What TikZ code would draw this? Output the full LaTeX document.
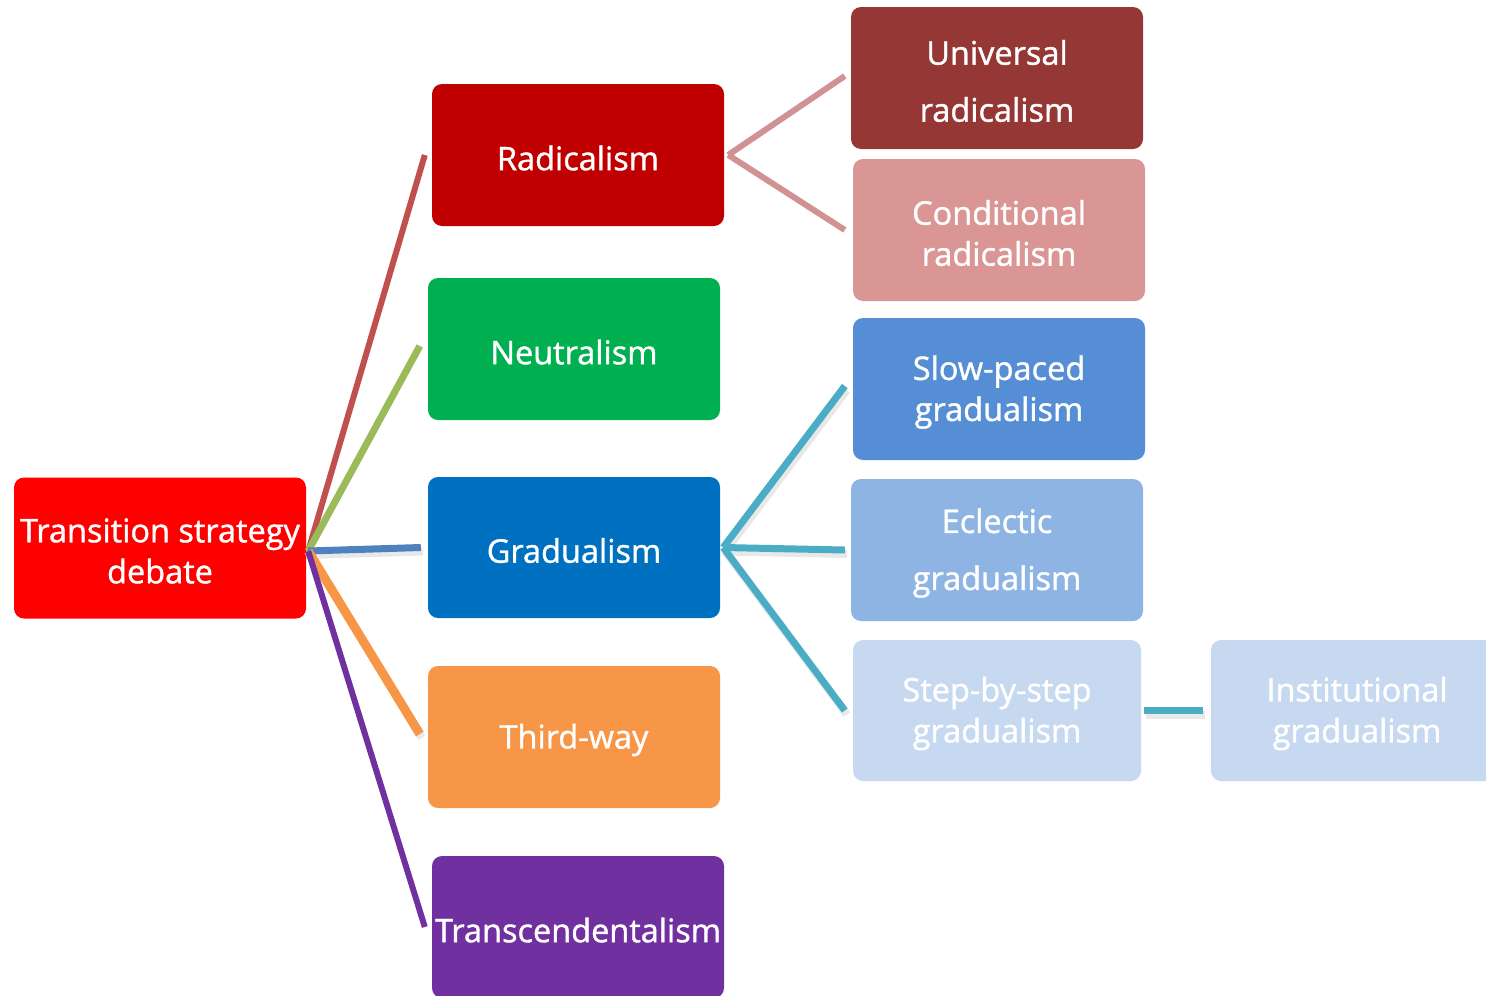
\documentclass[tikz,border=0pt]{standalone}
\usepackage{fontspec}
\setmainfont{Open Sans}[RawFeature={embolden=1.2}]
\definecolor{cRoot}{HTML}{FF0000}
\definecolor{cRad}{HTML}{C00000}
\definecolor{cNeu}{HTML}{00B050}
\definecolor{cGra}{HTML}{0070C0}
\definecolor{cThi}{HTML}{F79646}
\definecolor{cTra}{HTML}{7030A0}
\definecolor{cUni}{HTML}{953735}
\definecolor{cCon}{HTML}{D99694}
\definecolor{cSlo}{HTML}{558ED5}
\definecolor{cEcl}{HTML}{8EB4E3}
\definecolor{cSte}{HTML}{C6D9F1}
\definecolor{lRad}{HTML}{C0504D}
\definecolor{lNeu}{HTML}{9BBB59}
\definecolor{lGra}{HTML}{4F81BD}
\definecolor{lThi}{HTML}{F79646}
\definecolor{lTra}{HTML}{7030A0}
\definecolor{lSub}{HTML}{D09292}
\definecolor{lBlu}{HTML}{4BACC6}
\begin{document}
\begin{tikzpicture}[x=1pt,y=-1pt,
  box/.style={rounded corners=10pt, minimum width=292pt, minimum height=142pt,
    inner sep=0pt},
  lbl/.style={align=center, text=white, inner sep=0pt, yshift=-3pt,
    font=\fontsize{32.5}{41}\selectfont},
  wide/.style={font=\fontsize{32.5}{57}\selectfont},
  conn/.style={line width=7pt},
  shadowed/.style={preaction={draw=black!60, opacity=0.15, line width=8pt,
    transform canvas={shift={(2,4)}}}},
]
\useasboundingbox (0,0) rectangle (1486,996);
\clip (0,0) rectangle (1486,996);
% nodes
\node[box, fill=cRoot, minimum height=141pt, label={[lbl]center:Transition strategy\\debate}] (root) at (160,548) {};
\node[box, fill=cRad, label={[lbl]center:Radicalism}] (rad) at (578,155) {};
\node[box, fill=cNeu, label={[lbl]center:Neutralism}] (neu) at (574,349) {};
\node[box, fill=cGra, minimum height=141pt, label={[lbl]center:Gradualism}] (gra) at (574,547.5) {};
\node[box, fill=cThi, label={[lbl]center:Third-way}] (thi) at (574,737) {};
\node[box, fill=cTra, label={[lbl]center:Transcendentalism}] (tra) at (578,927) {};
\node[box, fill=cUni, label={[lbl,wide]center:Universal\\radicalism}] (uni) at (997,78) {};
\node[box, fill=cCon, label={[lbl]center:Conditional\\radicalism}] (con) at (999,230) {};
\node[box, fill=cSlo, label={[lbl]center:Slow-paced\\gradualism}] (slo) at (999,389) {};
\node[box, fill=cEcl, label={[lbl,wide]center:Eclectic\\gradualism}] (ecl) at (997,550) {};
\node[box, fill=cSte, minimum width=288pt, minimum height=141pt, label={[lbl]center:Step-by-step\\gradualism}] (ste) at (997,710.5) {};
\node[box, fill=cSte, minimum height=141pt, label={[lbl]center:Institutional\\gradualism}] (ins) at (1357,710.5) {};
% connectors from root
\coordinate (o) at ([xshift=2pt,yshift=-3pt]root.east);
\draw[conn, lRad, line width=6pt] (o) -- ([xshift=-7pt]rad.west);
\draw[conn, lNeu] (o) -- ([xshift=-8pt,yshift=3pt]neu.west);
\draw[conn, lGra, shadowed] (o) -- ([xshift=-7pt]gra.west);
\draw[conn, lThi, line width=9pt, shadowed] (o) -- ([xshift=-8pt,yshift=3pt]thi.west);
\draw[conn, lTra, line width=6pt] (o) -- ([xshift=-7pt]tra.west);
% radicalism children
\coordinate (r) at ([xshift=4pt]rad.east);
\draw[conn, lSub, line width=6pt] (r) -- ([xshift=-6pt,yshift=2pt]uni.west);
\draw[conn, lSub, line width=6pt] (r) -- ([xshift=-8pt]con.west);
% gradualism children
\coordinate (g) at ([xshift=3pt]gra.east);
\draw[conn, lBlu, shadowed] (g) -- ([xshift=-8pt,yshift=3pt]slo.west);
\draw[conn, lBlu, shadowed] (g) -- ([xshift=-6pt]ecl.west);
\draw[conn, lBlu, shadowed] (g) -- ([xshift=-8pt]ste.west);
\draw[conn, lBlu, shadowed] ([xshift=3pt]ste.east) -- ([xshift=-8pt]ins.west);
\end{tikzpicture}
\end{document}
